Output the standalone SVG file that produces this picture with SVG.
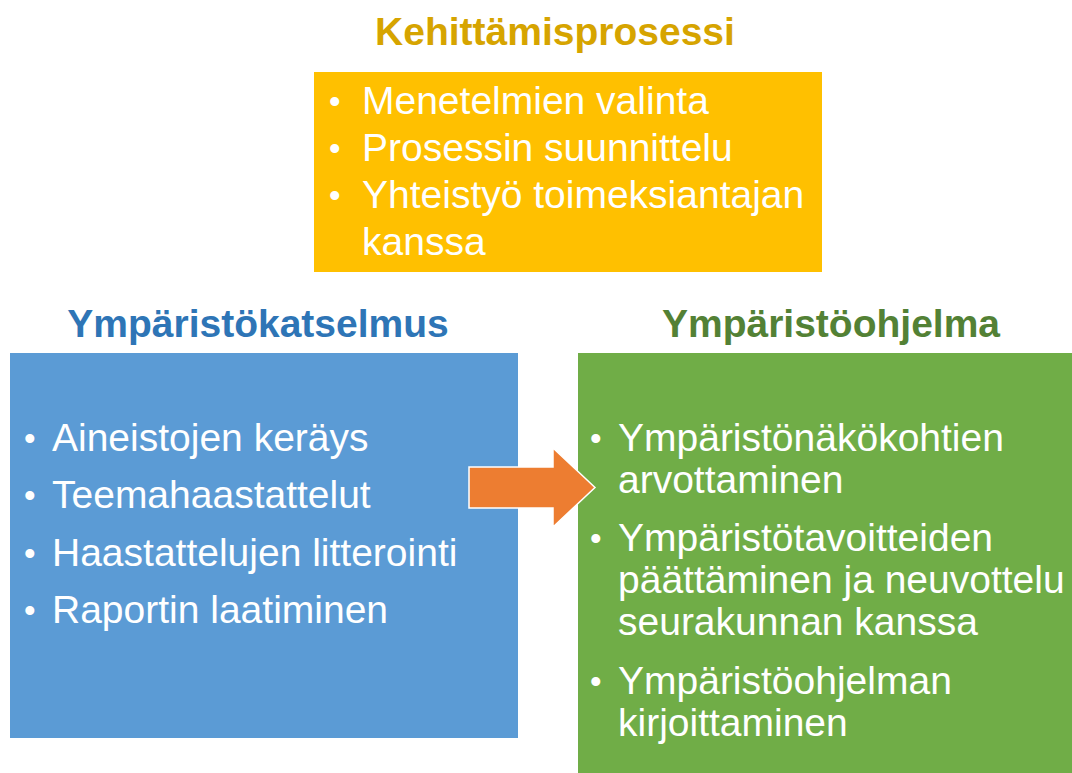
<svg xmlns="http://www.w3.org/2000/svg" width="1072" height="773" viewBox="0 0 1072 773">
<style>
.t{font-family:"Liberation Sans",Arial,sans-serif;font-weight:bold;font-size:39px;text-anchor:middle}
.b{font-family:"Liberation Sans",Arial,sans-serif;font-size:39px;fill:#fff}
.d{font-family:"Liberation Sans",Arial,sans-serif;font-size:33px;fill:#fff}
</style>
<rect width="1072" height="773" fill="#fff"/>
<g id="kehittamisprosessi">
<text class="t" x="555" y="45" fill="#D6A400">Kehittämisprosessi</text>
<rect x="314" y="72" width="508" height="200" fill="#FFC000"/>
<text class="d" x="329" y="113">•</text><text class="b" x="362" y="114">Menetelmien valinta</text>
<text class="d" x="329" y="160">•</text><text class="b" x="362" y="161">Prosessin suunnittelu</text>
<text class="d" x="329" y="207">•</text><text class="b"><tspan x="362" y="208">Yhteistyö toimeksiantajan</tspan><tspan x="362" y="255">kanssa</tspan></text>
</g>
<g id="ymparistokatselmus">
<text class="t" x="258" y="337" fill="#2E75B6">Ympäristökatselmus</text>
<rect x="10" y="353" width="508" height="385" fill="#5B9BD5"/>
<text class="d" x="24" y="450">•</text><text class="b" x="52" y="451">Aineistojen keräys</text>
<text class="d" x="24" y="507">•</text><text class="b" x="52" y="508">Teemahaastattelut</text>
<text class="d" x="24" y="565">•</text><text class="b" x="52" y="566">Haastattelujen litterointi</text>
<text class="d" x="24" y="622">•</text><text class="b" x="52" y="623">Raportin laatiminen</text>
</g>
<g id="ymparistoohjelma">
<text class="t" x="831" y="337" fill="#538135">Ympäristöohjelma</text>
<rect x="578" y="353" width="494" height="420" fill="#70AD47"/>
<text class="d" x="590" y="450">•</text><text class="b"><tspan x="618" y="451">Ympäristönäkökohtien</tspan><tspan x="618" y="493">arvottaminen</tspan></text>
<text class="d" x="590" y="550">•</text><text class="b"><tspan x="618" y="551">Ympäristötavoitteiden</tspan><tspan x="618" y="593">päättäminen ja neuvottelu</tspan><tspan x="618" y="635">seurakunnan kanssa</tspan></text>
<text class="d" x="590" y="693">•</text><text class="b"><tspan x="618" y="694">Ympäristöohjelman</tspan><tspan x="618" y="736">kirjoittaminen</tspan></text>
</g>
<g id="connectors">
<polygon points="469,467 553,467 553,448 595,487.5 553,527 553,508 469,508" fill="#ED7D31" stroke="#fff" stroke-width="1.5"/>
</g>
</svg>
